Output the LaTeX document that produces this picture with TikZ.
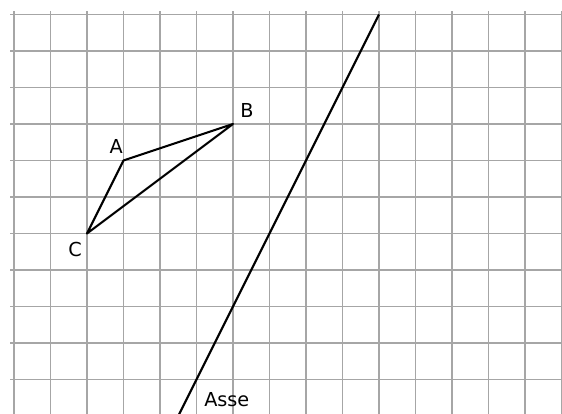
\documentclass[tikz,border=0pt]{standalone}
\usepackage{fontspec}
\setmainfont{DejaVu Sans}
\usepackage{tikz}
\usetikzlibrary{positioning}

\begin{document}
\begin{tikzpicture}[
		font=\fontsize{15}{18}\selectfont,
		gridline/.style={draw=gray!70, line width=0.9pt},
		segment/.style={draw=black, line width=1.6pt, line join=round}
		]
		\useasboundingbox (-0.384,0.055) rectangle (15.014,11.397);
		\draw[gridline, step=1] (-0.1,-0.1) grid (15.1,11.1);
		
		\coordinate (A) at (3,7);
		\coordinate (B) at (6,8);
		\coordinate (C) at (2,5);
		\coordinate (a1) at (4.5,0);
		\coordinate (a2) at (10,11);
		
		\draw[segment] (A) -- (B) -- (C) -- cycle;
		\draw[segment] (a1) -- (a2);
		
		\node (lA) at ([shift={(-0.2,0.37)}]A) {A};
		\node (lB) at ([shift={(0.38,0.38)}]B) {B};
		\node (lC) at ([shift={(-0.33,-0.44)}]C) {C};
		\node (lasse) at (5.83,0.44) {Asse};
	\end{tikzpicture}
\end{document}
